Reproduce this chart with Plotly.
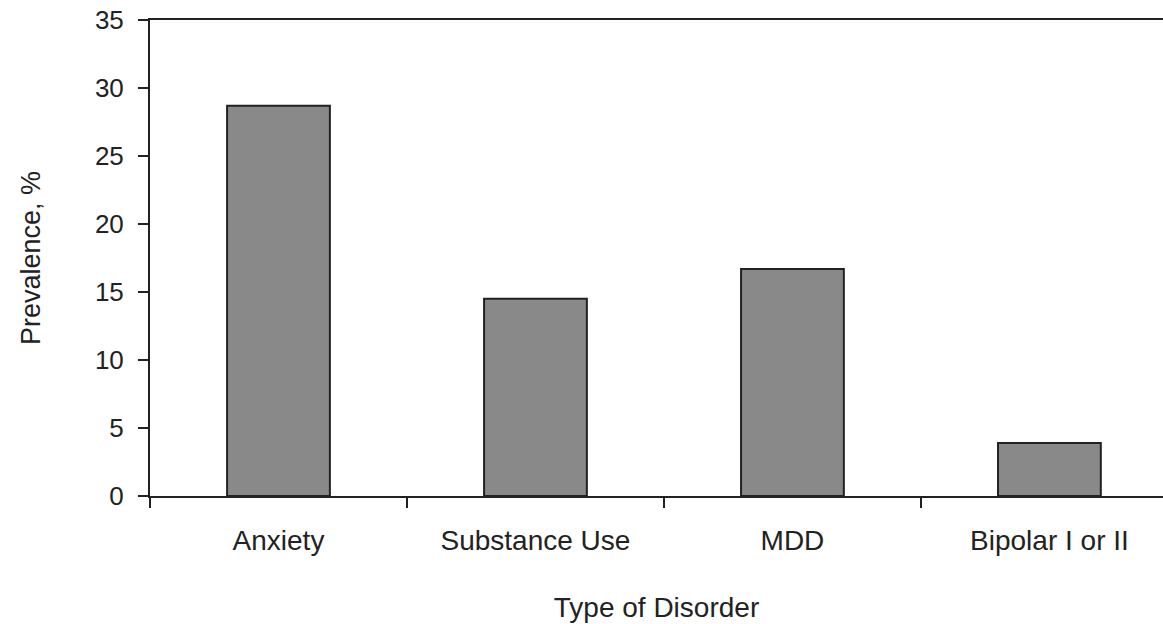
import plotly.graph_objects as go

categories = ["Anxiety", "Substance Use", "MDD", "Bipolar I or II"]
prevalence = [28.7, 14.5, 16.7, 3.9]
y_ticks = [0, 5, 10, 15, 20, 25, 30, 35]

fig = go.Figure(go.Bar(
    x=categories, y=prevalence, width=0.4,
    marker=dict(color="#898989", line=dict(color="#222222", width=2)),
))

fam = "Liberation Sans, Arial, sans-serif"
font = dict(family=fam, size=26, color="#222222")
fig.update_layout(
    width=1163, height=624,
    margin=dict(l=150, r=0, t=20, b=128),
    paper_bgcolor="white", plot_bgcolor="white",
    font=font, showlegend=False,
    xaxis=dict(
        range=[-0.5, 3.442], tickson="boundaries", ticks="outside", ticklen=10,
        tickwidth=2, tickcolor="#222222", showline=True, linecolor="#222222",
        linewidth=2, mirror=True, showgrid=False, ticklabelstandoff=18,
        tickfont=dict(family=fam, size=28, color="#222222"),
        title=dict(text="Type of Disorder", standoff=43,
                   font=dict(family=fam, size=28, color="#222222")),
    ),
    yaxis=dict(
        range=[0, 35], tickvals=y_ticks, ticks="outside", ticklen=10, tickwidth=2,
        tickcolor="#222222", showline=True, linecolor="#222222", linewidth=2,
        showgrid=False, zeroline=False, ticklabelstandoff=9,
        title=dict(text="Prevalence, %", standoff=46,
                   font=dict(family=fam, size=27, color="#222222")),
    ),
)

fig.write_html("out.html", config={"displayModeBar": False},
               post_script="document.body.style.margin='0';")
